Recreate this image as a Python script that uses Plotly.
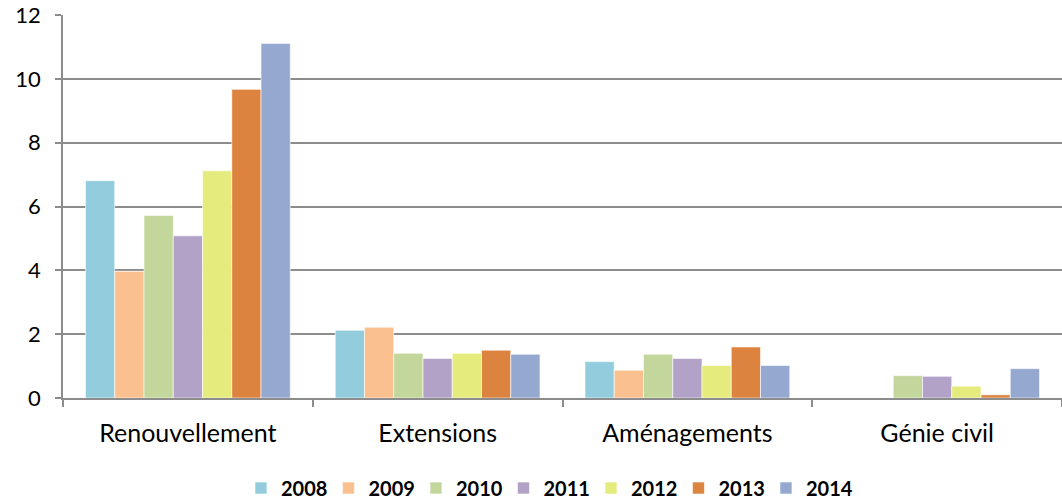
import plotly.graph_objects as go

categories = ["Renouvellement", "Extensions", "Aménagements", "Génie civil"]
years = ["2008", "2009", "2010", "2011", "2012", "2013", "2014"]
v2008 = [6.81, 2.12, 1.14, 0.0]
v2009 = [3.97, 2.22, 0.87, 0.0]
v2010 = [5.72, 1.40, 1.37, 0.70]
v2011 = [5.08, 1.24, 1.24, 0.68]
v2012 = [7.12, 1.40, 1.02, 0.37]
v2013 = [9.67, 1.50, 1.60, 0.10]
v2014 = [11.11, 1.37, 1.02, 0.92]
series = [v2008, v2009, v2010, v2011, v2012, v2013, v2014]
colors = ["#93CDDD", "#FAC090", "#C3D69B", "#B3A2C7", "#E5EB7D", "#DC843F", "#95A9D0"]
yticks = [0, 2, 4, 6, 8, 10, 12]

font = "Lato, 'Open Sans', sans-serif"

fig = go.Figure()
for y, vals, c in zip(years, series, colors):
    fig.add_trace(go.Bar(name=y, x=categories, y=vals, marker=dict(color=c, line=dict(color="rgba(255,255,255,0.6)", width=1))))

fig.update_layout(
    width=1062, height=499,
    margin=dict(l=63, r=0, t=15, b=101),
    paper_bgcolor="white", plot_bgcolor="white",
    barmode="group", bargap=0.18, bargroupgap=0,
    font=dict(family=font, size=24, color="black"),
    legend=dict(orientation="h", xref="container", yref="container",
                x=0.2269, xanchor="left", y=0.022, yanchor="middle",
                font=dict(family=font, size=20, color="black", weight="bold"),
                traceorder="normal", itemwidth=30, entrywidth=42.5),
    xaxis=dict(type="category", showline=True, linecolor="#8c8c8c", linewidth=1.5,
               ticks="outside", tickson="boundaries", ticklen=7, tickcolor="#8c8c8c", tickwidth=1.5,
               ticklabelstandoff=12, showgrid=False, automargin=False,
               tickfont=dict(family=font, size=25, color="black")),
    yaxis=dict(range=[0, 12], tickvals=yticks, showline=True, linecolor="#8c8c8c", linewidth=1.5,
               ticks="outside", ticklen=6, tickcolor="#8c8c8c", tickwidth=1.5,
               showgrid=True, gridcolor="#8c8c8c", gridwidth=1.5, zeroline=False,
               ticklabelstandoff=10, automargin=False, ticklabeloverflow="allow",
               tickfont=dict(family=font, size=22, color="black")),
)

fig.write_html("out.html", config={"displayModeBar": False},
               post_script="document.body.style.margin='0';")
